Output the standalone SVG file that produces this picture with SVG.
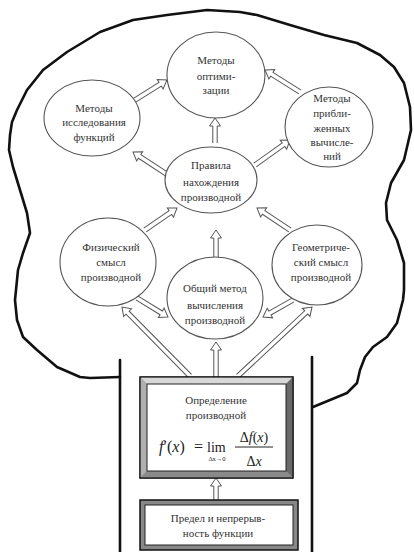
<svg xmlns="http://www.w3.org/2000/svg" width="414" height="552" viewBox="0 0 414 552">
<style>
.outline{fill:none;stroke:#111;stroke-width:2.6;stroke-linejoin:round;stroke-linecap:round}
.node{fill:#fff;stroke:#555;stroke-width:1.1}
.t{font-family:'Liberation Serif','DejaVu Serif',serif;font-size:11px;fill:#333;text-anchor:middle}
.arr{fill:#fff;stroke:#555;stroke-width:1}
.f{font-family:'Liberation Serif','DejaVu Serif',serif;fill:#222}
</style>
<rect width="414" height="552" fill="#fff"/>
<g id="tree">
<polyline class="outline" points="120,377 90,378 80,377 57,367 37,350 23,337 17,320 15,300 17,280 18,270 23,253 30,233 27,213 20,190 13,167 9,150 10,135 12,122 17,110 27,90 43,70 67,52 100,32 133,20 167,15 207,10 240,12 257,15 290,25 324,35 357,43 380,55 394,67 404,83 410,107 411,130 404,160 391,183 386,203 387,220 397,240 404,263 404,290 403,300 397,323 387,337 373,347 365,357 360,370 357,383 347,393 330,400 313,407"/>
<line class="outline" x1="120" y1="360" x2="120" y2="552"/>
<line class="outline" x1="312" y1="357" x2="312" y2="552"/>
</g>
<g id="connectors">
<path class="arr" transform="translate(135,100) rotate(-32)" d="M0,-2.2 H29.7 V-5.5 L37.7,0 L29.7,5.5 V2.2 H0"/>
<path class="arr" transform="translate(300,92) rotate(-147.8)" d="M0,-2.2 H33.3 V-5.5 L41.3,0 L33.3,5.5 V2.2 H0"/>
<path class="arr" transform="translate(215,143) rotate(-90)" d="M0,-2.2 H17 V-5.5 L25,0 L17,5.5 V2.2 H0"/>
<path class="arr" transform="translate(168,175) rotate(-146.7)" d="M0,-2.2 H33.9 V-5.5 L41.9,0 L33.9,5.5 V2.2 H0"/>
<path class="arr" transform="translate(255,165) rotate(-35.5)" d="M0,-2.2 H35 V-5.5 L43,0 L35,5.5 V2.2 H0"/>
<path class="arr" transform="translate(145,230) rotate(-34.5)" d="M0,-2.2 H30.8 V-5.5 L38.8,0 L30.8,5.5 V2.2 H0"/>
<path class="arr" transform="translate(290,230) rotate(-146.3)" d="M0,-2.2 H31.7 V-5.5 L39.7,0 L31.7,5.5 V2.2 H0"/>
<path class="arr" transform="translate(216,258) rotate(-90)" d="M0,-2.2 H20 V-5.5 L28,0 L20,5.5 V2.2 H0"/>
<path class="arr" transform="translate(137,298) rotate(31.5)" d="M0,-2.2 H28.4 V-5.5 L36.4,0 L28.4,5.5 V2.2 H0"/>
<path class="arr" transform="translate(293,300) rotate(150.5)" d="M0,-2.2 H26.5 V-5.5 L34.5,0 L26.5,5.5 V2.2 H0"/>
<path class="arr" transform="translate(190,376) rotate(-134.6)" d="M0,-2.2 H88.9 V-5.5 L96.9,0 L88.9,5.5 V2.2 H0"/>
<path class="arr" transform="translate(238,376) rotate(-43)" d="M0,-2.2 H93.2 V-5.5 L101.2,0 L93.2,5.5 V2.2 H0"/>
<path class="arr" transform="translate(216,377) rotate(-90)" d="M0,-2.2 H27 V-5.5 L35,0 L27,5.5 V2.2 H0"/>
<path class="arr" transform="translate(216,500) rotate(-90)" d="M0,-2.2 H14 V-5.5 L22,0 L14,5.5 V2.2 H0"/>
</g>
<g id="n-optim">
<ellipse class="node" cx="216" cy="75" rx="49" ry="43"/>
<text class="t" x="216" y="64">Методы</text>
<text class="t" x="216" y="80">оптими-</text>
<text class="t" x="216" y="94">зации</text>
</g>
<g id="n-issled">
<ellipse class="node" cx="92" cy="118" rx="48" ry="38"/>
<text class="t" x="94" y="112">Методы</text>
<text class="t" x="94" y="126">исследования</text>
<text class="t" x="94" y="141">функций</text>
</g>
<g id="n-pribl">
<ellipse class="node" cx="329" cy="127" rx="44" ry="40"/>
<text class="t" x="332" y="102">Методы</text>
<text class="t" x="332" y="117">прибли-</text>
<text class="t" x="332" y="132">женных</text>
<text class="t" x="332" y="146">вычисле-</text>
<text class="t" x="332" y="160">ний</text>
</g>
<g id="n-pravila">
<ellipse class="node" cx="211" cy="180" rx="46" ry="33"/>
<text class="t" x="211" y="169">Правила</text>
<text class="t" x="211" y="186">нахождения</text>
<text class="t" x="211" y="201">производной</text>
</g>
<g id="n-fiz">
<ellipse class="node" cx="108" cy="262" rx="48" ry="44"/>
<text class="t" x="111" y="251">Физический</text>
<text class="t" x="111" y="266">смысл</text>
<text class="t" x="111" y="281">производной</text>
</g>
<g id="n-obsh">
<ellipse class="node" cx="215" cy="298" rx="48" ry="41"/>
<text class="t" x="215" y="292">Общий метод</text>
<text class="t" x="215" y="309">вычисления</text>
<text class="t" x="215" y="324">производной</text>
</g>
<g id="n-geom">
<ellipse class="node" cx="317" cy="265" rx="45" ry="40"/>
<text class="t" x="321" y="251">Геометриче-</text>
<text class="t" x="321" y="266">ский смысл</text>
<text class="t" x="321" y="281">производной</text>
</g>
<g id="n-opred">
<rect x="140" y="377" width="153" height="101" fill="#999" stroke="#111" stroke-width="1.2"/>
<polygon points="140,377 293,377 286,384 147,384" fill="#d8d8d8"/>
<polygon points="140,377 147,384 147,471 140,478" fill="#b0b0b0"/>
<polygon points="293,377 293,478 286,471 286,384" fill="#6a6a6a"/>
<polygon points="140,478 147,471 286,471 293,478" fill="#8a8a8a"/>
<rect x="140" y="377" width="153" height="101" fill="none" stroke="#111" stroke-width="1.2"/>
<rect x="147" y="384" width="139" height="87" fill="#fff" stroke="#222" stroke-width="1"/>
<text class="t" x="216" y="404">Определение</text>
<text class="t" x="216" y="419">производной</text>
<text class="f" x="159" y="452" font-size="16"><tspan font-style="italic">f</tspan>′(<tspan font-style="italic">x</tspan>)</text>
<text class="f" x="194" y="452" font-size="16">=</text>
<text class="f" x="207" y="452" font-size="14">lim</text>
<text class="f" x="217" y="461" font-size="6.5" text-anchor="middle">Δx→0</text>
<text class="f" x="254" y="442" font-size="14" text-anchor="middle">Δ<tspan font-style="italic">f</tspan>(<tspan font-style="italic">x</tspan>)</text>
<line x1="235" y1="447" x2="273" y2="447" stroke="#222" stroke-width="1"/>
<text class="f" x="254" y="466" font-size="14" text-anchor="middle">Δ<tspan font-style="italic">x</tspan></text>
</g>
<g id="n-predel">
<rect x="140" y="500" width="158" height="50" fill="#888" stroke="#111" stroke-width="1.5"/>
<rect x="145" y="505" width="148" height="40" fill="#fff" stroke="#222" stroke-width="1"/>
<text class="t" x="218" y="522">Предел и непрерыв-</text>
<text class="t" x="218" y="537">ность функции</text>
</g>
</svg>
